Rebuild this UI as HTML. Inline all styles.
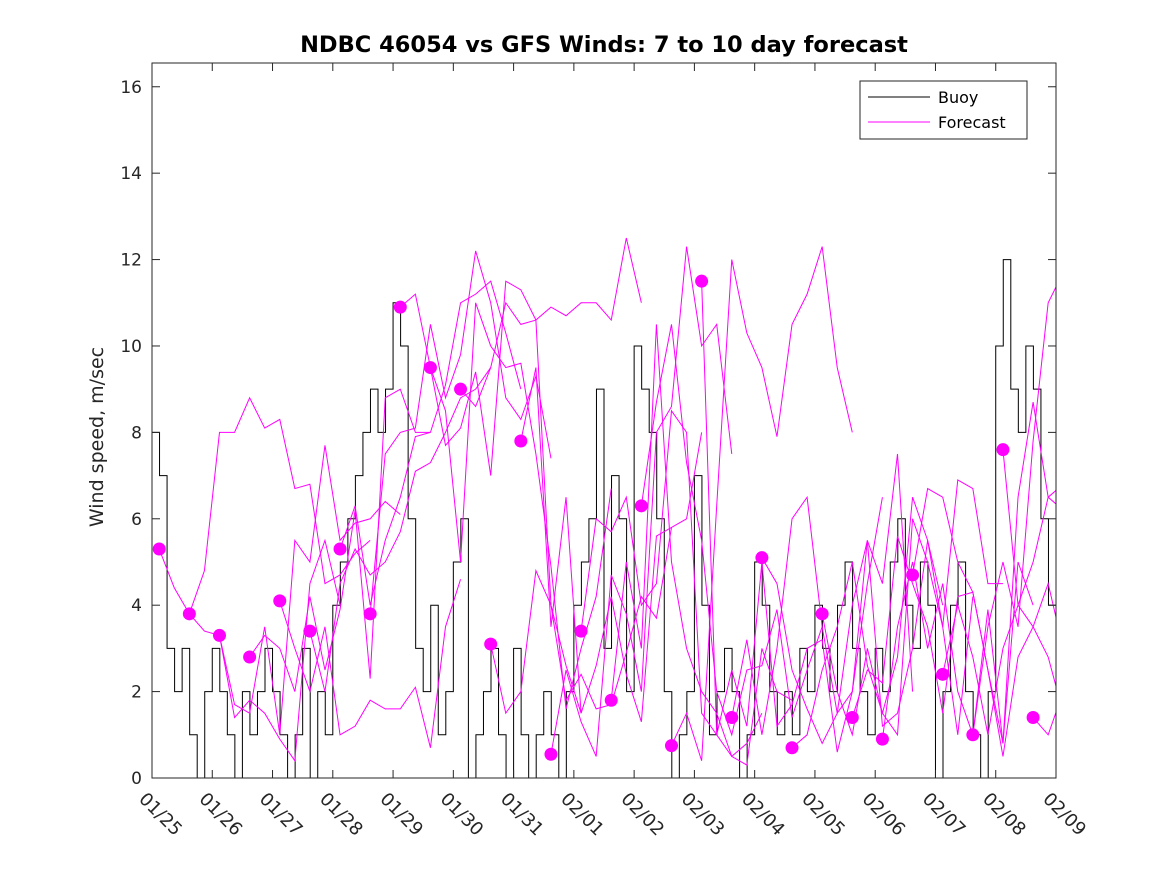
<!DOCTYPE html>
<html><head><meta charset="utf-8"><style>
body{margin:0;background:#fff;}
svg{font-family:"DejaVu Sans","Liberation Sans",sans-serif;}
</style></head><body>
<svg id="chart" width="1167" height="875" viewBox="0 0 1167 875">
<rect x="0" y="0" width="1167" height="875" fill="#fff"/>
<defs><clipPath id="clip"><rect x="152" y="63" width="904" height="715"/></clipPath></defs>
<text x="604" y="52" text-anchor="middle" font-size="22.5" font-weight="bold" fill="#000">NDBC 46054 vs GFS Winds: 7 to 10 day forecast</text>
<text transform="translate(103,437) rotate(-90)" text-anchor="middle" font-size="19" fill="#262626">Wind speed, m/sec</text>
<g id="series" clip-path="url(#clip)"></g>
<rect x="152" y="63" width="904" height="715" fill="none" stroke="#262626" stroke-width="1"/>
<g id="axes"></g>
<g>
<rect x="860" y="81" width="167" height="58" fill="#fff" stroke="#262626" stroke-width="1"/>
<line x1="868" y1="97" x2="930" y2="97" stroke="#000" stroke-width="1"/>
<text x="938" y="103" font-size="16" fill="#000">Buoy</text>
<line x1="868" y1="122" x2="930" y2="122" stroke="#ff00ff" stroke-width="1"/>
<text x="938" y="128" font-size="16" fill="#000">Forecast</text>
</g>
</svg>
<script>
const xTickLabels=["01/25","01/26","01/27","01/28","01/29","01/30","01/31","02/01","02/02","02/03","02/04","02/05","02/06","02/07","02/08","02/09"];
const yTicks=[0,2,4,6,8,10,12,14,16];
const buoyStep=0.125;
const buoy=[8,7,3,2,3,1,0,2, 3,2,1,0,2,1,2,3, 2,1,0,1,3,0,2,1, 4,5,6,7,8,9,8,9, 11,10,6,3,2,4,1,2, 5,6,0,1,2,3,1,0, 3,1,0,1,2,1,0,2, 4,5,6,9,3,7,6,2, 10,9,8,6,2,0,1,2, 7,4,1,2,3,2,0,1, 5,4,2,1,2,1,3,2, 4,3,2,4,5,3,2,1, 3,2,5,6,4,3,5,4, 0,2,4,5,2,1,0,2, 10,12,9,8,10,9,6,4];
const fcStep=0.25;
const fcStarts=[0,0.5,1,1.5,2,2.5,3,3.5,4,4.5,5,5.5,6,6.5,7,7.5,8,8.5,9,9.5,10,10.5,11,11.5,12,12.5,13,13.5,14,14.5];
const fcValues=[
[5.3,4.4,3.8,3.4,3.3,1.4,1.8,1.5,0.9,0.4,4.5,5.5,4.0],
[3.8,4.8,8.0,8.0,8.8,8.1,8.3,6.7,6.8,4.5,4.7,5.2,5.5],
[3.3,1.7,1.5,3.5,1.0,5.5,5.0,7.7,5.5,5.9,6.0,6.4,6.1],
[2.8,3.3,3.0,2.0,4.2,2.5,3.9,6.2,2.3,8.8,9.0,8.0,8.0],
[4.1,3.0,2.0,3.5,1.0,1.2,1.8,1.6,1.6,2.1,0.7,3.5,4.6],
[3.4,2.0,4.5,5.3,4.7,5.0,5.7,7.1,7.3,8.0,8.8,9.0,9.5],
[5.3,6.3,4.0,5.5,6.5,7.9,8.0,9.1,11.0,11.2,11.5,10.3,9.0],
[3.8,7.5,8.0,8.1,10.5,8.8,9.8,12.2,11.0,8.8,8.3,9.3,7.4],
[10.9,11.2,9.5,7.7,8.1,9.4,7.0,11.5,11.3,10.6,4.0,2.6,1.5],
[9.5,8.5,5.0,11.0,10.0,9.5,9.6,7.5,4.9,1.6,3.0,4.2,6.7],
[9.0,8.6,9.5,11.0,10.5,10.6,10.9,10.7,11.0,11.0,10.6,12.5,11.0],
[3.1,1.5,2.0,4.8,4.0,1.8,2.4,1.6,1.7,2.9,4.2,3.7,5.8],
[7.8,9.5,3.5,6.5,1.5,2.6,4.2,2.4,1.3,5.6,5.8,6.0,8.0],
[0.55,2.5,1.3,0.5,4.7,3.8,2.0,8.0,8.6,12.3,10.0,10.5,7.5],
[3.4,6.0,5.7,6.5,4.0,4.5,8.5,8.0,1.5,1.0,0.5,0.8,1.5],
[1.8,5.0,3.0,10.5,5.0,3.0,2.0,1.5,0.5,0.3,3.0,2.0,1.8],
[6.3,8.7,10.5,7.3,5.5,2.0,1.0,2.5,2.6,3.9,1.4,2.5,3.5],
[0.75,1.5,0.4,6.3,12.0,10.3,9.5,7.9,10.5,11.2,12.3,9.5,8.0],
[11.5,1.0,2.5,1.2,5.0,1.2,1.7,3.0,3.2,0.6,2.0,4.5,6.5],
[1.4,3.2,1.0,3.0,6.0,6.5,3.5,1.5,2.0,5.5,4.5,7.5,2.0],
[5.1,4.5,2.5,1.6,0.8,1.5,4.0,5.5,1.2,1.5,3.0,5.5,4.0],
[0.7,1.0,2.5,3.5,5.0,2.6,1.5,2.8,6.5,5.5,3.5,1.0,4.2],
[3.8,2.0,1.0,3.0,1.5,1.0,6.0,5.0,3.5,6.9,6.7,4.5,4.5],
[1.4,2.5,2.2,5.6,4.5,3.5,1.5,4.2,4.3,2.5,0.8,5.0,4.0],
[0.9,3.5,5.0,3.0,4.5,2.0,1.0,3.9,0.8,6.5,8.7,6.5,6.2],
[4.7,6.7,6.5,5.0,4.3,2.5,0.5,2.8,3.5,4.5,3.0,4.0,3.9],
[2.4,4.0,2.8,1.0,3.0,4.0,5.0,6.5,6.8,5.0,2.0,3.5,4.0],
[1.0,3.5,5.0,3.5,7.8,11.0,11.7,10.0],
[7.6,4.0,3.5,2.8,1.5,9.0],
[1.4,1.0,2.0,9.5]];
const dotOffset=0.12;

const X0=152,X1=1056,Y0=778,YTOP=63,YMAX=16.55;
const xs=d=>X0+(X1-X0)*d/15;
const ys=v=>Y0-(Y0-YTOP)*v/YMAX;
const NS="http://www.w3.org/2000/svg";
const mk=(t,a,p)=>{const e=document.createElementNS(NS,t);for(const k in a)e.setAttribute(k,a[k]);p.appendChild(e);return e;};
const axes=document.getElementById('axes'),series=document.getElementById('series');

yTicks.forEach(v=>{
  const y=ys(v);
  let l=mk('line',{x1:X0,y1:y,x2:X0+8,y2:y,stroke:'#262626'},axes);
  
  
  let l2=mk('line',{x1:X1,y1:y,x2:X1-8,y2:y,stroke:'#262626'},axes);
  
  
  let t=mk('text',{x:X0-10,y:y+6,'text-anchor':'end','font-size':17,fill:'#262626'},axes);
  t.textContent=v;
  
  
});
xTickLabels.forEach((s,i)=>{
  const x=xs(i);
  let l=mk('line',{x1:x,y1:Y0,x2:x,y2:Y0-8,stroke:'#262626'},axes);
  
  
  let l2=mk('line',{x1:x,y1:YTOP,x2:x,y2:YTOP+8,stroke:'#262626'},axes);
  
  
  let t=mk('text',{transform:`translate(${x-14},${Y0+22}) rotate(45)`,'font-size':18,fill:'#262626'},axes);
  t.textContent=s;
  
  
});

let d='';
buoy.forEach((v,i)=>{
  const xa=xs(i*buoyStep),xb=xs((i+1)*buoyStep),y=ys(v);
  d+=(i===0?'M':'L')+xa+','+y+' L'+xb+','+y+' ';
});
let bp=mk('path',{d:d,fill:'none',stroke:'#000','stroke-width':1},series);



fcValues.forEach((arr,k)=>{
  const s=fcStarts[k]+dotOffset;
  const pts=arr.map((v,i)=>xs(s+i*fcStep)+','+ys(v)).join(' ');
  let p=mk('polyline',{points:pts,fill:'none',stroke:'#ff00ff','stroke-width':1},series);
  
  
});
fcValues.forEach((arr,k)=>{
  const s=fcStarts[k]+dotOffset;
  let c=mk('circle',{cx:xs(s),cy:ys(arr[0]),r:6.5,fill:'#ff00ff'},series);
  
  
});
</script>
</body></html>
